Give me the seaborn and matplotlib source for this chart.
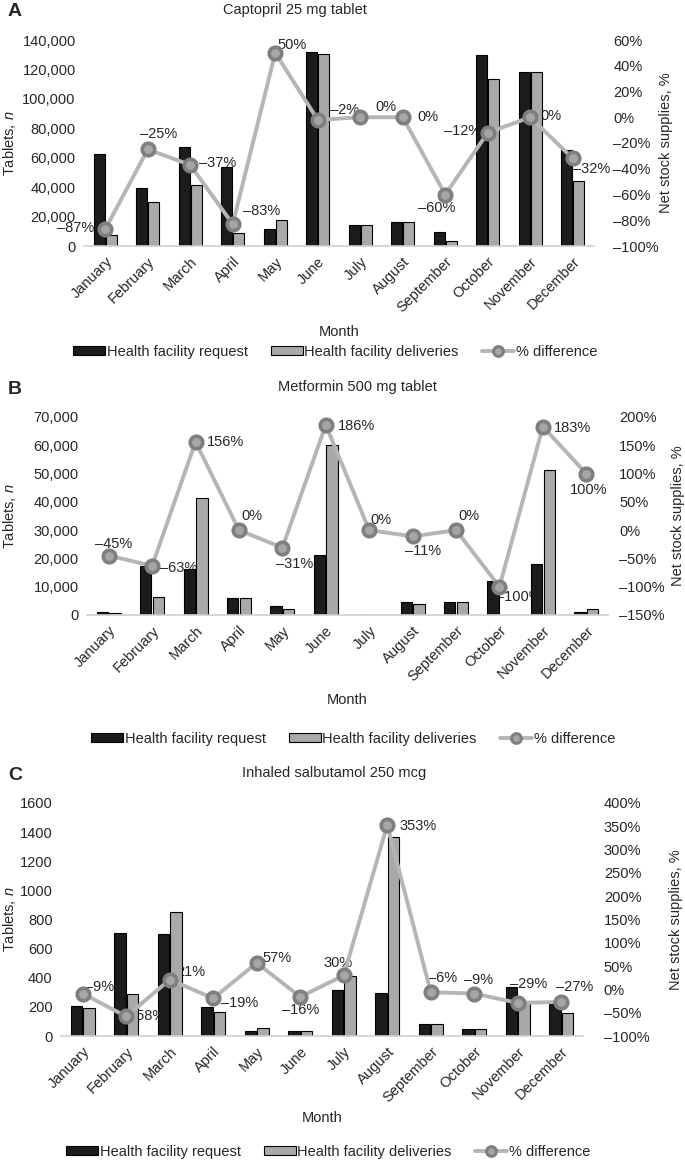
import numpy as np
import pandas as pd
import matplotlib
matplotlib.use('Agg')
import matplotlib.pyplot as plt
from matplotlib.ticker import FuncFormatter, MultipleLocator
from matplotlib.patches import Patch
from matplotlib.lines import Line2D
import seaborn as sns

months = ['January', 'February', 'March', 'April', 'May', 'June', 'July',
          'August', 'September', 'October', 'November', 'December']

# A: captopril
capto_request    = [62300, 39700, 67100, 53700, 11600, 132000, 14500, 16500, 9500, 129800, 118400, 65000]
capto_deliveries = [7500, 29700, 41500, 8600, 17700, 130500, 14500, 16500, 3600, 113200, 118400, 44000]
capto_pct        = [-87, -25, -37, -83, 50, -2, 0, 0, -60, -12, 0, -32]

# B: metformin
metf_request    = [950, 17500, 16100, 6050, 3200, 21100, 0, 4500, 4500, 12100, 18200, 950]
metf_deliveries = [600, 6500, 41200, 6050, 2250, 60200, 0, 3900, 4500, 0, 51200, 2000]
metf_pct        = [-45, -63, 156, 0, -31, 186, 0, -11, 0, -100, 183, 100]

# C: salbutamol
salb_request    = [208, 708, 701, 200, 32, 37, 314, 293, 85, 51, 339, 219]
salb_deliveries = [191, 291, 853, 164, 53, 35, 410, 1365, 81, 46, 240, 159]
salb_pct        = [-9, -58, 21, -19, 57, -16, 30, 353, -6, -9, -29, -27]

sns.set_style('white')
plt.rcParams['font.family'] = ['Liberation Sans', 'DejaVu Sans']
plt.rcParams['mathtext.fontset'] = 'custom'
plt.rcParams['mathtext.it'] = 'Liberation Sans:italic'
plt.rcParams['mathtext.rm'] = 'Liberation Sans'

FS = 10.5
C_REQ = '#1c1c1c'
C_DEL = '#a9a9a9'
C_LINE = '#b5b5b5'
C_MARK = '#7f7f7f'

fig = plt.figure(figsize=(6.85, 11.62), dpi=100)
W, H = 685.0, 1162.0


def pct_fmt(v, p):
    return f'{v:.0f}%'.replace('-', '–')


def draw_panel(rect, letter, title, title_x, request, deliveries, pct,
               ylim, ystep, y2lim, y2step, comma, offsets, month_y, legend_x, legend_y,
               ylab_x, y2lab_x, pad2, leader=()):
    l, t, r, b = rect
    ax = fig.add_axes([l / W, 1 - b / H, (r - l) / W, (b - t) / H])
    df = pd.DataFrame({
        'Month': months * 2,
        'Tablets': request + deliveries,
        'Series': ['Health facility request'] * 12 + ['Health facility deliveries'] * 12,
    })
    sns.barplot(data=df, x='Month', y='Tablets', hue='Series', order=months,
                hue_order=['Health facility request', 'Health facility deliveries'],
                palette=[C_REQ, C_DEL], width=0.58, gap=0.1, edgecolor='black',
                linewidth=0.8, ax=ax, legend=False)
    ax.set_xlim(-0.5, 11.5)
    ax.set_ylim(*ylim)
    ax.yaxis.set_major_locator(MultipleLocator(ystep))
    if comma:
        ax.yaxis.set_major_formatter(FuncFormatter(lambda v, p: f'{v:,.0f}'))
    else:
        ax.yaxis.set_major_formatter(FuncFormatter(lambda v, p: f'{v:.0f}'))
    for s in ['top', 'left', 'right']:
        ax.spines[s].set_visible(False)
    ax.spines['bottom'].set_color('#d0d0d0')
    ax.spines['bottom'].set_linewidth(1.2)
    ax.tick_params(axis='both', length=0, labelsize=FS, pad=6)
    ax.set_xticks(range(12))
    ax.set_xticklabels(months, rotation=45, ha='right', rotation_mode='anchor', fontsize=FS)
    ax.set_xlabel('')
    ax.set_ylabel('Tablets, $\\it{n}$', fontsize=FS)
    ax.yaxis.set_label_coords((ylab_x - l) / (r - l), 0.5)

    ax2 = ax.twinx()
    sns.lineplot(x=np.arange(12), y=pct, ax=ax2, color=C_LINE, linewidth=2.8,
                 marker='o', markersize=9, markerfacecolor='#a5a5a5',
                 markeredgecolor=C_MARK, markeredgewidth=2.6)
    ax2.set_xlim(-0.5, 11.5)
    ax2.set_ylim(*y2lim)
    ax2.yaxis.set_major_locator(MultipleLocator(y2step))
    ax2.yaxis.set_major_formatter(FuncFormatter(pct_fmt))
    for s in ['top', 'left', 'right', 'bottom']:
        ax2.spines[s].set_visible(False)
    ax2.tick_params(axis='y', length=0, labelsize=FS, pad=pad2)
    ax2.set_ylabel('Net stock supplies, %', fontsize=FS)
    ax2.yaxis.set_label_coords((y2lab_x - l) / (r - l), 0.5)

    # % labels sit behind the bars like the original
    for i, (v, off) in enumerate(zip(pct, offsets)):
        kw = {}
        if i in leader:
            kw['arrowprops'] = dict(arrowstyle='-', color='#bfbfbf', lw=0.8, shrinkA=2, shrinkB=5)
        ax.annotate(pct_fmt(v, None), xy=(i, v), xycoords=ax2.transData,
                    xytext=off, textcoords='offset pixels', ha='center', va='center',
                    fontsize=FS, zorder=0.5, annotation_clip=False, **kw)

    fig.text(8 / W, 1 - (t - 28) / H, letter, fontsize=14, fontweight='bold',
             va='center', ha='left')
    fig.text(title_x / W, 1 - (t - 30) / H, title, fontsize=FS, ha='center', va='center')
    fig.text(((l + r) / 2) / W, 1 - month_y / H, 'Month', fontsize=FS, ha='center', va='center')

    handles = [Patch(facecolor=C_REQ, edgecolor='black', linewidth=0.8),
               Patch(facecolor=C_DEL, edgecolor='black', linewidth=0.8),
               Line2D([], [], color=C_LINE, linewidth=2.8, marker='o', markersize=7,
                      markerfacecolor='#a5a5a5', markeredgecolor=C_MARK, markeredgewidth=2.2)]
    fig.legend(handles, ['Health facility request', 'Health facility deliveries', '% difference'],
               loc='center', bbox_to_anchor=(legend_x / W, 1 - legend_y / H), ncol=3,
               frameon=False, fontsize=FS, handlelength=2.2, handleheight=0.55,
               handletextpad=0.1, columnspacing=1.6)


draw_panel((84, 40, 594, 246), 'A', 'Captopril 25 mg tablet', 295,
           capto_request, capto_deliveries, capto_pct,
           (0, 140000), 20000, (-100, 60), 20, True,
           [(-30, 1), (11, 15), (27, 2), (29, 13), (17, 8), (27, 10), (26, 10), (25, 0),
            (-9, -13), (-25, 2), (21, 1), (19, -11)],
           332, 335, 352, 18, 659, 14)

draw_panel((87, 417, 608, 615), 'B', 'Metformin 500 mg tablet', 357,
           metf_request, metf_deliveries, metf_pct,
           (0, 70000), 10000, (-150, 200), 50, True,
           [(5, 12), (27, -2), (30, 0), (13, 14), (12, -16), (31, -1), (12, 10), (10, -15),
            (13, 14), (19, -10), (30, -1), (2, -16)],
           700, 353, 739, 18, 671, 8)

draw_panel((61, 803, 583, 1036), 'C', 'Inhaled salbutamol 250 mcg', 334,
           salb_request, salb_deliveries, salb_pct,
           (0, 1600), 200, (-100, 400), 50, False,
           [(17, 7), (20, 0), (21, 8), (26, -5), (20, 5), (0, -13), (-6, 12), (31, -1),
            (12, 14), (4, 14), (11, 19), (13, 15)],
           1118, 328, 1152, 18, 669, 15, leader=(8,))

fig.savefig('out.png', dpi=100)
